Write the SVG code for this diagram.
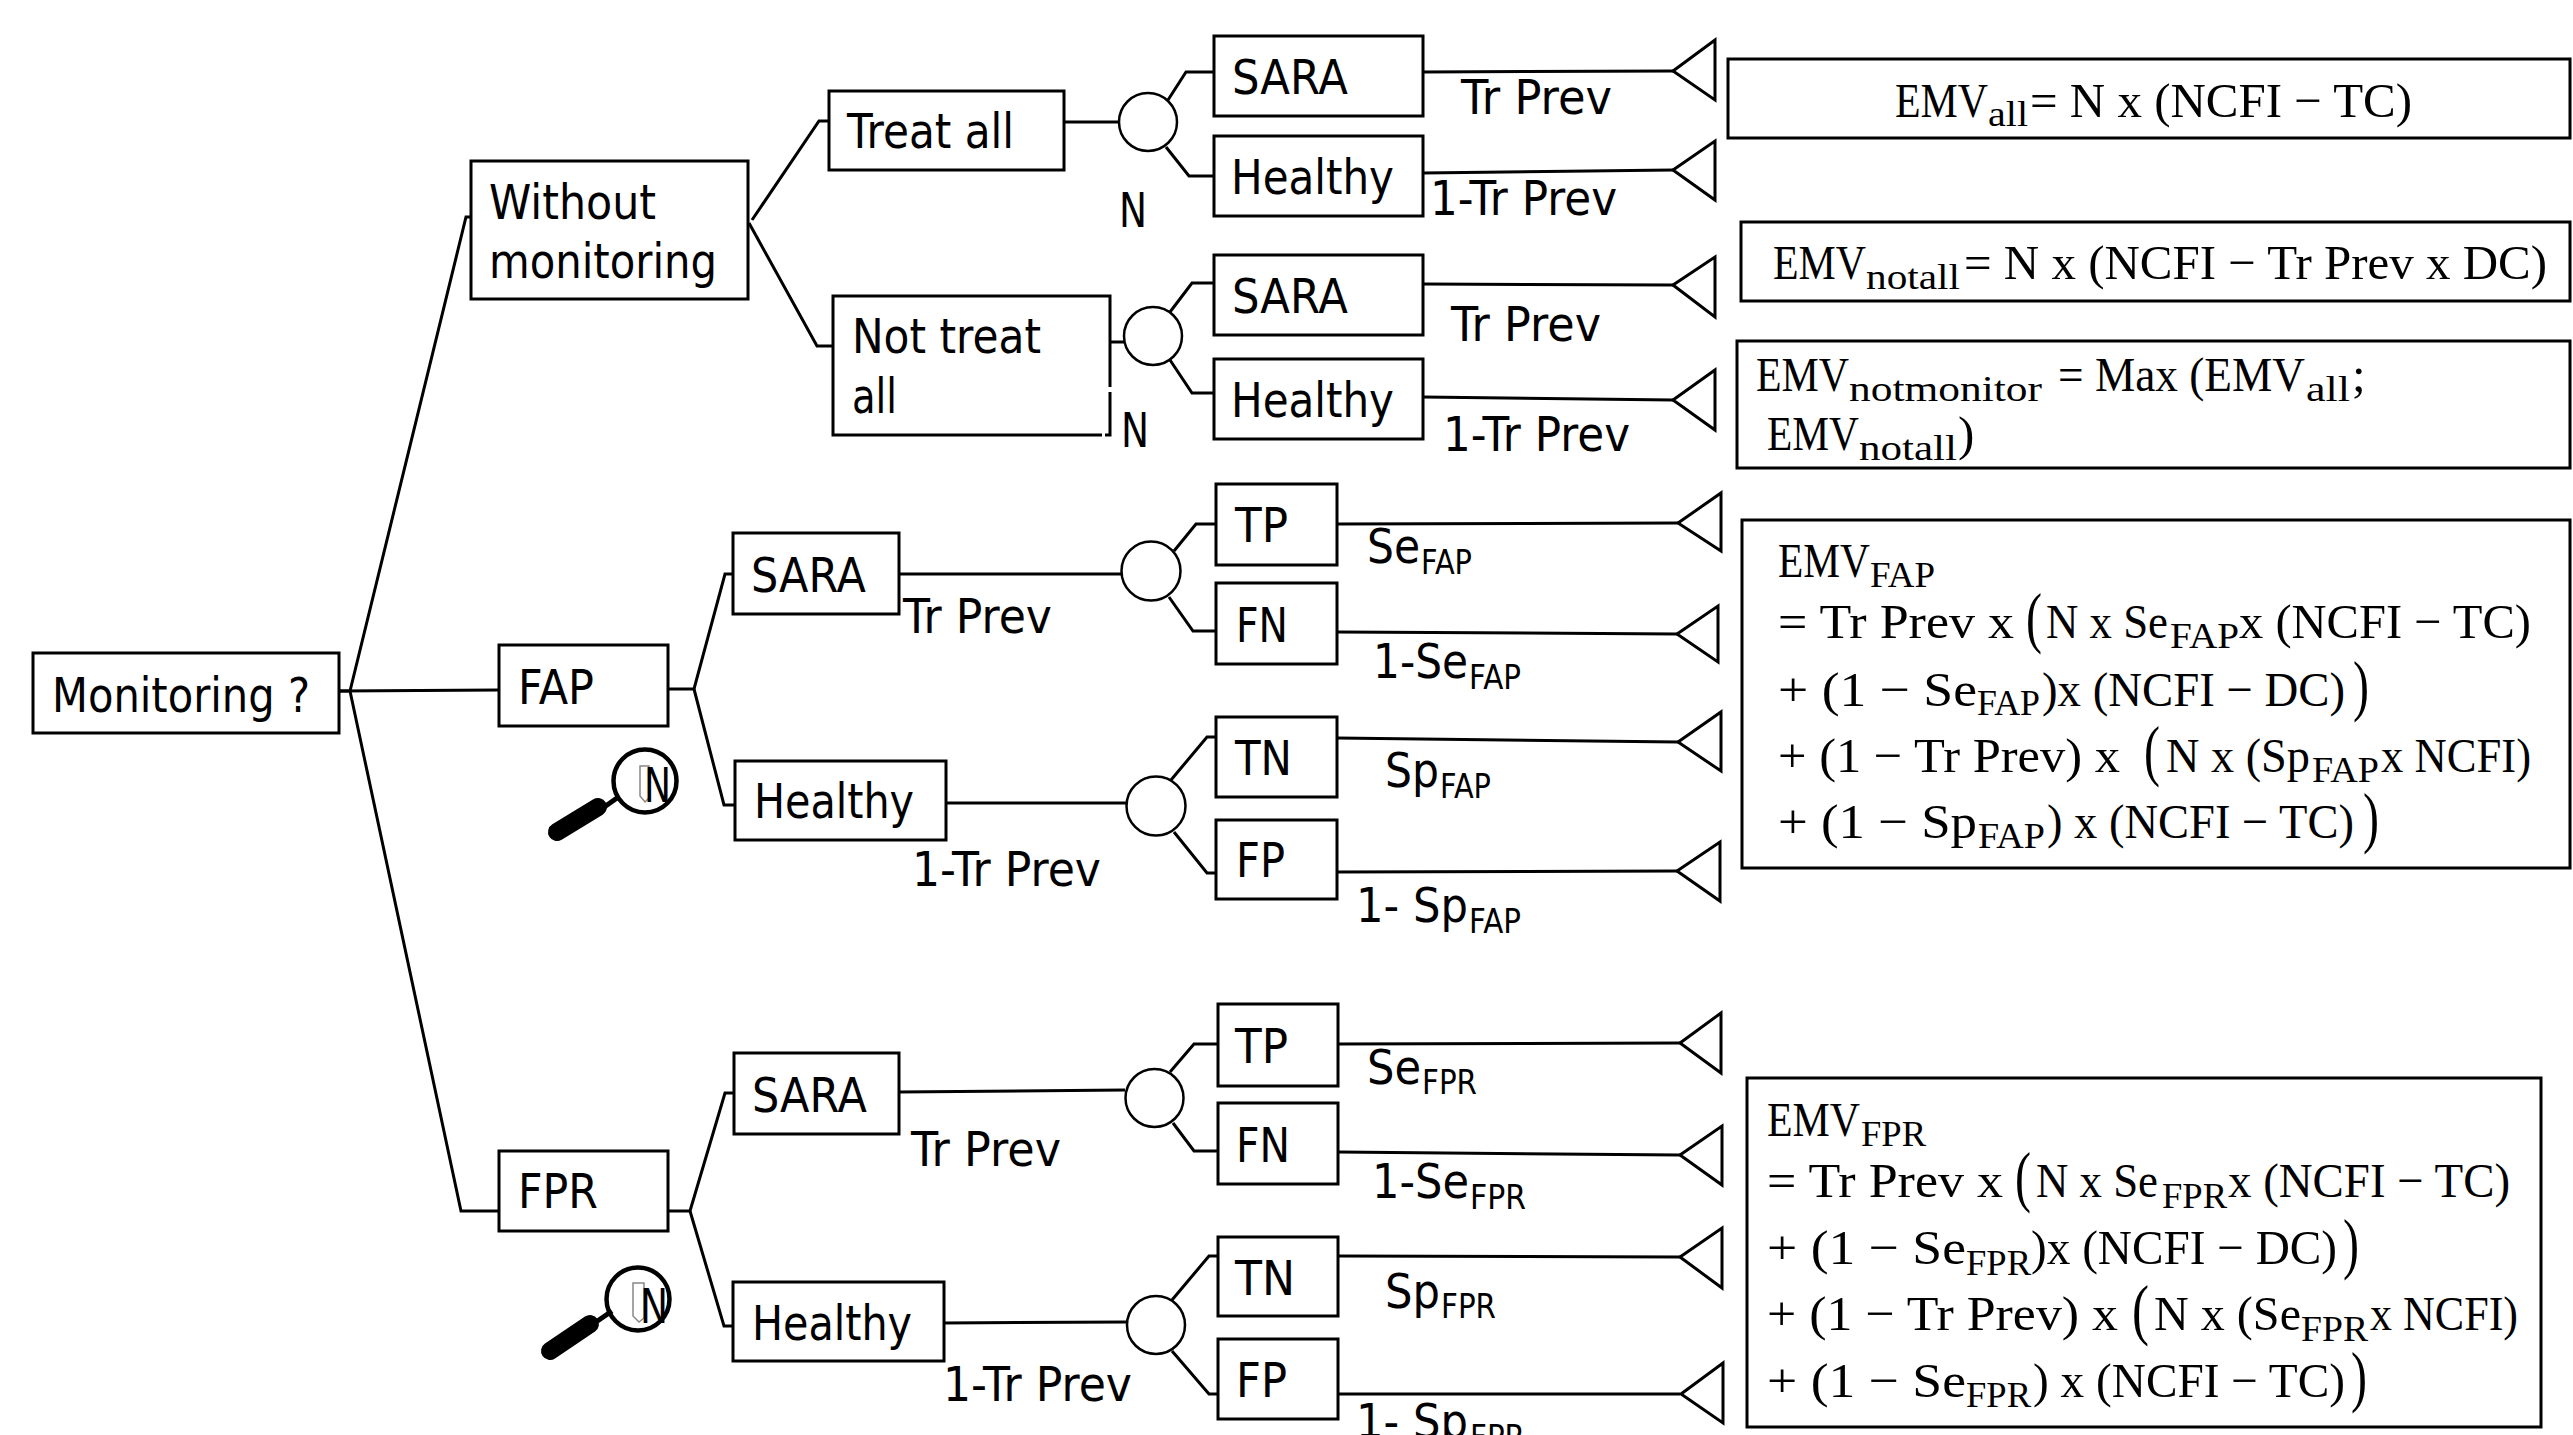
<svg xmlns="http://www.w3.org/2000/svg" width="2573" height="1435" viewBox="0 0 2573 1435">
<style>
rect.b,path.b{fill:#fff;stroke:#000;stroke-width:3}
polyline,line{fill:none;stroke:#000;stroke-width:3}
line.h1{stroke-width:5}
line.h2{stroke-width:18;stroke-linecap:round}
ellipse.c{fill:#fff;stroke:#000;stroke-width:2.5}
polygon.t{fill:#fff;stroke:#000;stroke-width:3}
text{fill:#000}
.l{font-family:"DejaVu Sans","Liberation Sans",sans-serif;font-size:48px}
.s{font-size:33px}
.e{font-family:"Liberation Serif","DejaVu Serif",serif;font-size:49px}
.es{font-size:36px}
.p{font-family:"Liberation Serif","DejaVu Serif",serif;font-size:68px}
</style>
<rect width="2573" height="1435" fill="#fff"/>
<g id="connectors">
<polyline points="339,691 350,691 466,217 471,217"/>
<line x1="339" y1="691" x2="499" y2="690"/>
<polyline points="350,691 461,1211 499,1211"/>
<polyline points="752,220 819,121 829,121"/>
<polyline points="749,223 817,346 833,346"/>
<line x1="1064" y1="122" x2="1119" y2="122"/>
<line x1="1110" y1="342" x2="1124" y2="342"/>
<polyline points="1168,100 1186,72 1214,72"/>
<polyline points="1166,147 1189,176 1214,176"/>
<polyline points="1170,312 1192,283 1214,283"/>
<polyline points="1170,360 1192,393 1214,393"/>
<line x1="1423" y1="72" x2="1673" y2="71"/>
<line x1="1423" y1="173" x2="1673" y2="170"/>
<line x1="1423" y1="284" x2="1673" y2="285"/>
<line x1="1423" y1="397" x2="1673" y2="400"/>
<polyline points="668,689 694,689 725,574 733,574"/>
<polyline points="694,689 724,805 735,805"/>
<line x1="899" y1="574" x2="1121" y2="574"/>
<line x1="946" y1="803" x2="1127" y2="803"/>
<polyline points="1174,551 1196,524 1216,524"/>
<polyline points="1169,597 1193,631 1216,631"/>
<polyline points="1171,780 1207,737 1216,737"/>
<polyline points="1174,832 1207,873 1216,873"/>
<line x1="1337" y1="524" x2="1678" y2="523"/>
<line x1="1337" y1="632" x2="1677" y2="634"/>
<line x1="1337" y1="738" x2="1678" y2="742"/>
<line x1="1337" y1="872" x2="1677" y2="871"/>
<polyline points="668,1211 690,1211 725,1093 734,1093"/>
<polyline points="690,1211 724,1326 733,1326"/>
<line x1="899" y1="1092" x2="1125" y2="1090"/>
<line x1="944" y1="1323" x2="1127" y2="1322"/>
<polyline points="1170,1072 1194,1044 1218,1044"/>
<polyline points="1173,1123 1194,1151 1218,1151"/>
<polyline points="1172,1300 1209,1256 1218,1256"/>
<polyline points="1172,1351 1209,1394 1218,1394"/>
<line x1="1338" y1="1044" x2="1680" y2="1043"/>
<line x1="1338" y1="1152" x2="1680" y2="1155"/>
<line x1="1338" y1="1256" x2="1680" y2="1257"/>
<line x1="1338" y1="1394" x2="1680" y2="1394"/>
</g>

<g id="monitoring"><rect class="b" x="33" y="653" width="306" height="80"/><text class="l" x="52" y="712" textLength="258" lengthAdjust="spacingAndGlyphs">Monitoring ?</text></g>
<g id="without-monitoring"><rect class="b" x="471" y="161" width="277" height="138"/><text class="l" x="489" y="219" textLength="167" lengthAdjust="spacingAndGlyphs">Without</text><text class="l" x="489" y="278" textLength="228" lengthAdjust="spacingAndGlyphs">monitoring</text></g>
<g id="treat-all"><rect class="b" x="829" y="91" width="235" height="79"/><text class="l" x="847" y="148" textLength="167" lengthAdjust="spacingAndGlyphs">Treat all</text></g>
<g id="not-treat-all"><path class="b" d="M1110 387V296H833V435H1102M1105 435H1110V392" /><text class="l" x="852" y="353" textLength="189" lengthAdjust="spacingAndGlyphs">Not treat</text><text class="l" x="852" y="413" textLength="45" lengthAdjust="spacingAndGlyphs">all</text></g>
<g id="chance-treat"><ellipse class="c" cx="1148" cy="122" rx="29" ry="29"/></g>
<g id="chance-not-treat"><ellipse class="c" cx="1153" cy="336" rx="29" ry="29"/></g>
<g id="label-n-1"><text class="l" x="1119" y="227" textLength="28" lengthAdjust="spacingAndGlyphs">N</text></g>
<g id="label-n-2"><text class="l" x="1121" y="447" textLength="28" lengthAdjust="spacingAndGlyphs">N</text></g>
<g id="sara-1"><rect class="b" x="1214" y="36" width="209" height="80"/><text class="l" x="1232" y="94" textLength="116" lengthAdjust="spacingAndGlyphs">SARA</text></g>
<g id="healthy-1"><rect class="b" x="1214" y="136" width="209" height="80"/><text class="l" x="1231" y="194" textLength="163" lengthAdjust="spacingAndGlyphs">Healthy</text></g>
<g id="sara-2"><rect class="b" x="1214" y="255" width="209" height="80"/><text class="l" x="1232" y="313" textLength="116" lengthAdjust="spacingAndGlyphs">SARA</text></g>
<g id="healthy-2"><rect class="b" x="1214" y="359" width="209" height="80"/><text class="l" x="1231" y="417" textLength="163" lengthAdjust="spacingAndGlyphs">Healthy</text></g>

<g id="fap"><rect class="b" x="499" y="645" width="169" height="81"/><text class="l" x="518" y="704" textLength="76" lengthAdjust="spacingAndGlyphs">FAP</text></g>
<g id="fap-sara"><rect class="b" x="733" y="533" width="166" height="81"/><text class="l" x="751" y="592" textLength="115" lengthAdjust="spacingAndGlyphs">SARA</text></g>
<g id="fap-healthy"><rect class="b" x="735" y="761" width="211" height="79"/><text class="l" x="754" y="818" textLength="160" lengthAdjust="spacingAndGlyphs">Healthy</text></g>
<g id="chance-fap-sara"><ellipse class="c" cx="1151" cy="571" rx="29.5" ry="29.5"/></g>
<g id="chance-fap-healthy"><ellipse class="c" cx="1156" cy="806" rx="29.5" ry="29.5"/></g>
<g id="fap-tp"><rect class="b" x="1216" y="484" width="121" height="81"/><text class="l" x="1235" y="542" textLength="53" lengthAdjust="spacingAndGlyphs">TP</text></g>
<g id="fap-fn"><rect class="b" x="1216" y="583" width="121" height="81"/><text class="l" x="1236" y="642" textLength="52" lengthAdjust="spacingAndGlyphs">FN</text></g>
<g id="fap-tn"><rect class="b" x="1216" y="717" width="121" height="80"/><text class="l" x="1235" y="775" textLength="57" lengthAdjust="spacingAndGlyphs">TN</text></g>
<g id="fap-fp"><rect class="b" x="1216" y="820" width="121" height="79"/><text class="l" x="1236" y="877" textLength="49" lengthAdjust="spacingAndGlyphs">FP</text></g>

<g id="fpr"><rect class="b" x="499" y="1151" width="169" height="80"/><text class="l" x="518" y="1208" textLength="80" lengthAdjust="spacingAndGlyphs">FPR</text></g>
<g id="fpr-sara"><rect class="b" x="734" y="1053" width="165" height="81"/><text class="l" x="752" y="1112" textLength="115" lengthAdjust="spacingAndGlyphs">SARA</text></g>
<g id="fpr-healthy"><rect class="b" x="733" y="1282" width="211" height="79"/><text class="l" x="752" y="1340" textLength="160" lengthAdjust="spacingAndGlyphs">Healthy</text></g>
<g id="chance-fpr-sara"><ellipse class="c" cx="1154.5" cy="1098" rx="29" ry="29"/></g>
<g id="chance-fpr-healthy"><ellipse class="c" cx="1156" cy="1325" rx="29" ry="29"/></g>
<g id="fpr-tp"><rect class="b" x="1218" y="1004" width="120" height="82"/><text class="l" x="1235" y="1063" textLength="53" lengthAdjust="spacingAndGlyphs">TP</text></g>
<g id="fpr-fn"><rect class="b" x="1218" y="1103" width="120" height="81"/><text class="l" x="1236" y="1162" textLength="54" lengthAdjust="spacingAndGlyphs">FN</text></g>
<g id="fpr-tn"><rect class="b" x="1218" y="1237" width="120" height="79"/><text class="l" x="1235" y="1295" textLength="60" lengthAdjust="spacingAndGlyphs">TN</text></g>
<g id="fpr-fp"><rect class="b" x="1218" y="1339" width="120" height="80"/><text class="l" x="1236" y="1397" textLength="51" lengthAdjust="spacingAndGlyphs">FP</text></g>

<g id="terminals">
<polygon class="t" points="1673,71 1715,40 1715,100"/>
<polygon class="t" points="1673,170 1715,141 1715,200"/>
<polygon class="t" points="1673,285 1715,257 1715,317"/>
<polygon class="t" points="1673,400 1715,370 1715,430"/>
<polygon class="t" points="1678,523 1721,493 1721,551"/>
<polygon class="t" points="1677,634 1718,606 1718,662"/>
<polygon class="t" points="1678,742 1721,712 1721,771"/>
<polygon class="t" points="1677,871 1720,842 1720,901"/>
<polygon class="t" points="1680,1043 1721,1013 1721,1073"/>
<polygon class="t" points="1680,1155 1722,1126 1722,1185"/>
<polygon class="t" points="1680,1257 1722,1228 1722,1288"/>
<polygon class="t" points="1681,1394 1723,1363 1723,1423"/>
</g>

<g id="branch-labels">
<text class="l" x="1461" y="114" textLength="151" lengthAdjust="spacingAndGlyphs">Tr Prev</text>
<text class="l" x="1430" y="215" textLength="187" lengthAdjust="spacingAndGlyphs">1-Tr Prev</text>
<text class="l" x="1451" y="341" textLength="150" lengthAdjust="spacingAndGlyphs">Tr Prev</text>
<text class="l" x="1443" y="451" textLength="187" lengthAdjust="spacingAndGlyphs">1-Tr Prev</text>
<text class="l" x="903" y="633" textLength="149" lengthAdjust="spacingAndGlyphs">Tr Prev</text>
<text class="l" x="912" y="886" textLength="189" lengthAdjust="spacingAndGlyphs">1-Tr Prev</text>
<text class="l" x="911" y="1166" textLength="150" lengthAdjust="spacingAndGlyphs">Tr Prev</text>
<text class="l" x="943" y="1401" textLength="189" lengthAdjust="spacingAndGlyphs">1-Tr Prev</text>
<text class="l" x="1367" y="563"><tspan textLength="53" lengthAdjust="spacingAndGlyphs">Se</tspan><tspan class="s" x="1421" y="574" textLength="51" lengthAdjust="spacingAndGlyphs">FAP</tspan></text>
<text class="l" x="1373" y="678"><tspan textLength="95" lengthAdjust="spacingAndGlyphs">1-Se</tspan><tspan class="s" x="1469" y="689" textLength="52" lengthAdjust="spacingAndGlyphs">FAP</tspan></text>
<text class="l" x="1385" y="787"><tspan textLength="54" lengthAdjust="spacingAndGlyphs">Sp</tspan><tspan class="s" x="1440" y="798" textLength="51" lengthAdjust="spacingAndGlyphs">FAP</tspan></text>
<text class="l" x="1356" y="922"><tspan textLength="112" lengthAdjust="spacingAndGlyphs">1- Sp</tspan><tspan class="s" x="1469" y="933" textLength="52" lengthAdjust="spacingAndGlyphs">FAP</tspan></text>
<text class="l" x="1367" y="1084"><tspan textLength="54" lengthAdjust="spacingAndGlyphs">Se</tspan><tspan class="s" x="1422" y="1094" textLength="55" lengthAdjust="spacingAndGlyphs">FPR</tspan></text>
<text class="l" x="1372" y="1198"><tspan textLength="97" lengthAdjust="spacingAndGlyphs">1-Se</tspan><tspan class="s" x="1470" y="1209" textLength="56" lengthAdjust="spacingAndGlyphs">FPR</tspan></text>
<text class="l" x="1385" y="1308"><tspan textLength="55" lengthAdjust="spacingAndGlyphs">Sp</tspan><tspan class="s" x="1441" y="1318" textLength="55" lengthAdjust="spacingAndGlyphs">FPR</tspan></text>
<text class="l" x="1356" y="1438"><tspan textLength="112" lengthAdjust="spacingAndGlyphs">1- Sp</tspan><tspan class="s" x="1470" y="1449" textLength="55" lengthAdjust="spacingAndGlyphs">FPR</tspan></text>
</g>

<g id="magnifier-fap">
<line class="h1" x1="600" y1="810" x2="617" y2="798"/>
<line class="h2" x1="557" y1="832" x2="598" y2="807"/>
<path d="M640 766H649V798L645 802L640 796Z" fill="none" stroke="#888" stroke-width="1.5"/>
<text class="l" x="644" y="802" textLength="27" lengthAdjust="spacingAndGlyphs">N</text>
<circle cx="645" cy="781" r="31.5" fill="none" stroke="#000" stroke-width="4.5"/>
</g>
<g id="magnifier-fpr">
<line class="h1" x1="596" y1="1322" x2="612" y2="1311"/>
<line class="h2" x1="550" y1="1351" x2="590" y2="1324"/>
<path d="M633 1283H644V1318L639 1322L633 1316Z" fill="none" stroke="#888" stroke-width="1.5"/>
<text class="l" x="640" y="1323" textLength="28" lengthAdjust="spacingAndGlyphs">N</text>
<circle cx="638" cy="1299" r="31.5" fill="none" stroke="#000" stroke-width="4.5"/>
</g>

<g id="emv-all"><rect class="b" x="1728" y="59" width="842" height="79"/>
<text class="e" x="1895" y="117"><tspan textLength="93" lengthAdjust="spacingAndGlyphs">EMV</tspan><tspan class="es" x="1988" y="126" textLength="40" lengthAdjust="spacingAndGlyphs">all</tspan><tspan x="2030" y="117" textLength="382" lengthAdjust="spacingAndGlyphs">= N x (NCFI − TC)</tspan></text></g>
<g id="emv-notall"><rect class="b" x="1741" y="222" width="829" height="79"/>
<text class="e" x="1773" y="279"><tspan textLength="93" lengthAdjust="spacingAndGlyphs">EMV</tspan><tspan class="es" x="1866" y="289" textLength="94" lengthAdjust="spacingAndGlyphs">notall</tspan><tspan x="1964" y="279" textLength="583" lengthAdjust="spacingAndGlyphs">= N x (NCFI − Tr Prev x DC)</tspan></text></g>
<g id="emv-notmonitor"><rect class="b" x="1737" y="341" width="833" height="127"/>
<text class="e" x="1756" y="391"><tspan textLength="93" lengthAdjust="spacingAndGlyphs">EMV</tspan><tspan class="es" x="1849" y="401" textLength="193" lengthAdjust="spacingAndGlyphs">notmonitor</tspan><tspan x="2058" y="391" textLength="247" lengthAdjust="spacingAndGlyphs">= Max (EMV</tspan><tspan class="es" x="2306" y="401" textLength="44" lengthAdjust="spacingAndGlyphs">all</tspan><tspan x="2352" y="391">;</tspan></text>
<text class="e" x="1767" y="450"><tspan textLength="92" lengthAdjust="spacingAndGlyphs">EMV</tspan><tspan class="es" x="1859" y="460" textLength="98" lengthAdjust="spacingAndGlyphs">notall</tspan><tspan x="1958" y="450">)</tspan></text></g>

<g id="emv-fap"><rect class="b" x="1742" y="520" width="828" height="348"/>
<text class="e" x="1778" y="577"><tspan textLength="92" lengthAdjust="spacingAndGlyphs">EMV</tspan><tspan class="es" x="1870" y="587" textLength="65" lengthAdjust="spacingAndGlyphs">FAP</tspan></text>
<text class="e" x="1778" y="638"><tspan textLength="236" lengthAdjust="spacingAndGlyphs">= Tr Prev x</tspan><tspan class="p" x="2026" y="640" textLength="16" lengthAdjust="spacingAndGlyphs">(</tspan><tspan x="2046" y="638" textLength="122" lengthAdjust="spacingAndGlyphs">N x Se</tspan><tspan class="es" x="2170" y="648" textLength="69" lengthAdjust="spacingAndGlyphs">FAP</tspan><tspan x="2239" y="638" textLength="292" lengthAdjust="spacingAndGlyphs">x (NCFI − TC)</tspan></text>
<text class="e" x="1778" y="706"><tspan textLength="199" lengthAdjust="spacingAndGlyphs">+ (1 − Se</tspan><tspan class="es" x="1977" y="715" textLength="63" lengthAdjust="spacingAndGlyphs">FAP</tspan><tspan x="2042" y="706" textLength="303" lengthAdjust="spacingAndGlyphs">)x (NCFI − DC)</tspan><tspan class="p" x="2353" y="708" textLength="16" lengthAdjust="spacingAndGlyphs">)</tspan></text>
<text class="e" x="1778" y="772"><tspan textLength="342" lengthAdjust="spacingAndGlyphs">+ (1 − Tr Prev) x</tspan><tspan class="p" x="2144" y="773" textLength="16" lengthAdjust="spacingAndGlyphs">(</tspan><tspan x="2166" y="772" textLength="144" lengthAdjust="spacingAndGlyphs">N x (Sp</tspan><tspan class="es" x="2312" y="782" textLength="67" lengthAdjust="spacingAndGlyphs">FAP</tspan><tspan x="2381" y="772" textLength="150" lengthAdjust="spacingAndGlyphs">x NCFI)</tspan></text>
<text class="e" x="1778" y="838"><tspan textLength="199" lengthAdjust="spacingAndGlyphs">+ (1 − Sp</tspan><tspan class="es" x="1978" y="848" textLength="67" lengthAdjust="spacingAndGlyphs">FAP</tspan><tspan x="2047" y="838" textLength="307" lengthAdjust="spacingAndGlyphs">) x (NCFI − TC)</tspan><tspan class="p" x="2363" y="840" textLength="16" lengthAdjust="spacingAndGlyphs">)</tspan></text></g>

<g id="emv-fpr"><rect class="b" x="1747" y="1078" width="794" height="349"/>
<text class="e" x="1767" y="1136"><tspan textLength="93" lengthAdjust="spacingAndGlyphs">EMV</tspan><tspan class="es" x="1861" y="1146" textLength="65" lengthAdjust="spacingAndGlyphs">FPR</tspan></text>
<text class="e" x="1767" y="1197"><tspan textLength="236" lengthAdjust="spacingAndGlyphs">= Tr Prev x</tspan><tspan class="p" x="2015" y="1199" textLength="16" lengthAdjust="spacingAndGlyphs">(</tspan><tspan x="2036" y="1197" textLength="122" lengthAdjust="spacingAndGlyphs">N x Se</tspan><tspan class="es" x="2162" y="1208" textLength="65" lengthAdjust="spacingAndGlyphs">FPR</tspan><tspan x="2228" y="1197" textLength="282" lengthAdjust="spacingAndGlyphs">x (NCFI − TC)</tspan></text>
<text class="e" x="1767" y="1264"><tspan textLength="199" lengthAdjust="spacingAndGlyphs">+ (1 − Se</tspan><tspan class="es" x="1966" y="1275" textLength="65" lengthAdjust="spacingAndGlyphs">FPR</tspan><tspan x="2031" y="1264" textLength="306" lengthAdjust="spacingAndGlyphs">)x (NCFI − DC)</tspan><tspan class="p" x="2343" y="1266" textLength="16" lengthAdjust="spacingAndGlyphs">)</tspan></text>
<text class="e" x="1767" y="1330"><tspan textLength="351" lengthAdjust="spacingAndGlyphs">+ (1 − Tr Prev) x</tspan><tspan class="p" x="2132" y="1332" textLength="17" lengthAdjust="spacingAndGlyphs">(</tspan><tspan x="2154" y="1330" textLength="147" lengthAdjust="spacingAndGlyphs">N x (Se</tspan><tspan class="es" x="2301" y="1341" textLength="67" lengthAdjust="spacingAndGlyphs">FPR</tspan><tspan x="2370" y="1330" textLength="148" lengthAdjust="spacingAndGlyphs">x NCFI)</tspan></text>
<text class="e" x="1767" y="1397"><tspan textLength="199" lengthAdjust="spacingAndGlyphs">+ (1 − Se</tspan><tspan class="es" x="1966" y="1407" textLength="65" lengthAdjust="spacingAndGlyphs">FPR</tspan><tspan x="2033" y="1397" textLength="312" lengthAdjust="spacingAndGlyphs">) x (NCFI − TC)</tspan><tspan class="p" x="2351" y="1399" textLength="16" lengthAdjust="spacingAndGlyphs">)</tspan></text></g>
</svg>
